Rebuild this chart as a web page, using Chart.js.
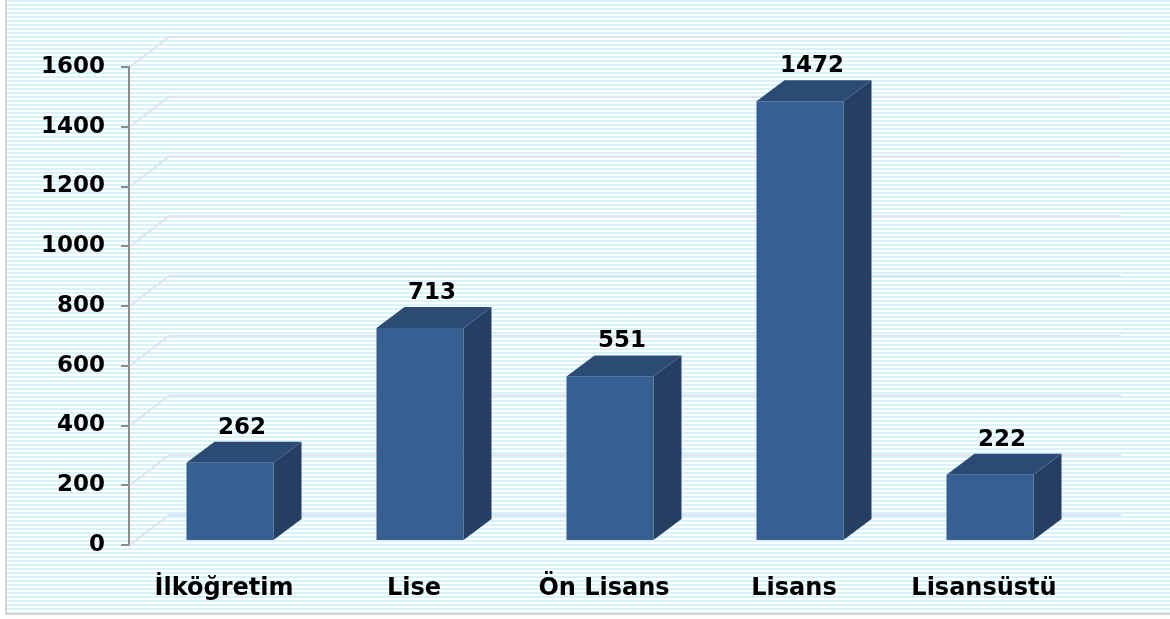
<!DOCTYPE html>
<html>
<head>
<meta charset="utf-8">
<script src="https://cdn.jsdelivr.net/npm/chart.js@4"></script>
<style>
  html, body { margin: 0; padding: 0; }
  body {
    width: 1170px; height: 619px; overflow: hidden;
    background: #fff;
  }
  .marco {
    position: absolute; left: 5px; top: 0; width: 1165px; height: 615px;
    border-left: 2px solid #d4d4d4; border-bottom: 2px solid #d4d4d4;
    box-sizing: border-box;
    background: repeating-linear-gradient(to bottom, #d7f2fb 0px, #d7f2fb 2px, #ffffff 2px, #ffffff 4px);
  }
  #grafico { position: absolute; left: 0; top: 0; }
</style>
</head>
<body>
<div class="marco"></div>
<canvas id="grafico" width="1170" height="619"></canvas>
<script>
// Datos del gráfico
const categorias = ['İlköğretim', 'Lise', 'Ön Lisans', 'Lisans', 'Lisansüstü'];
const valores = [262, 713, 551, 1472, 222];
const ejeMax = 1600;
const ejePaso = 200;

const FUENTE = '"DejaVu Sans", sans-serif';

// Profundidad 3D
const PROF_BARRA = { dx: 28, dy: -21 };
const PROF_PARED = { dx: 40, dy: -30 };
const DESPLAZ = { dx: 6, dy: -4 };

// Rejilla con perspectiva (pared del fondo)
const rejilla3d = {
  id: 'rejilla3d',
  beforeDatasetsDraw(chart) {
    const ctx = chart.ctx;
    const y = chart.scales.y;
    const area = chart.chartArea;
    ctx.save();
    ctx.strokeStyle = '#dde3f0';
    ctx.lineWidth = 2;
    y.ticks.forEach(function(t) {
      const py = y.getPixelForValue(t.value);
      ctx.beginPath();
      ctx.moveTo(area.left + 1, py);
      ctx.lineTo(area.left + PROF_PARED.dx, py + PROF_PARED.dy);
      ctx.lineTo(area.right + PROF_PARED.dx + 2, py + PROF_PARED.dy);
      ctx.stroke();
    });
    ctx.restore();
  }
};

// Barras en 3D (frente, techo, lado) y etiquetas
const barras3d = {
  id: 'barras3d',
  afterDatasetsDraw(chart) {
    const ctx = chart.ctx;
    const meta = chart.getDatasetMeta(0);
    ctx.save();
    meta.data.forEach(function(bar, i) {
      const p = bar.getProps(['x', 'y', 'base', 'width'], true);
      const x0 = p.x - p.width / 2 + DESPLAZ.dx;
      const x1 = p.x + p.width / 2 + DESPLAZ.dx;
      const top = p.y + DESPLAZ.dy;
      const bot = p.base + DESPLAZ.dy;
      const dx = PROF_BARRA.dx, dy = PROF_BARRA.dy;

      // lado
      ctx.fillStyle = '#243f61';
      ctx.beginPath();
      ctx.moveTo(x1, top);
      ctx.lineTo(x1 + dx, top + dy);
      ctx.lineTo(x1 + dx, bot + dy);
      ctx.lineTo(x1, bot);
      ctx.closePath();
      ctx.fill();

      // techo
      ctx.fillStyle = '#2c4b74';
      ctx.beginPath();
      ctx.moveTo(x0, top);
      ctx.lineTo(x0 + dx, top + dy);
      ctx.lineTo(x1 + dx, top + dy);
      ctx.lineTo(x1, top);
      ctx.closePath();
      ctx.fill();

      // frente
      ctx.fillStyle = '#375f92';
      ctx.fillRect(x0, top, x1 - x0, bot - top);

      // etiqueta de valor
      ctx.fillStyle = '#000';
      ctx.font = 'bold 23px ' + FUENTE;
      ctx.textAlign = 'center';
      ctx.textBaseline = 'alphabetic';
      ctx.fillText(String(valores[i]), (x0 + x1) / 2 + dx / 2 - 2, top + dy - 8);
    });
    ctx.restore();
  }
};

const ctx = document.getElementById('grafico').getContext('2d');
new Chart(ctx, {
  type: 'bar',
  data: {
    labels: categorias,
    datasets: [{
      data: valores,
      backgroundColor: 'rgba(0,0,0,0)',
      borderWidth: 0,
      categoryPercentage: 1,
      barPercentage: 0.458
    }]
  },
  options: {
    responsive: false,
    animation: false,
    layout: { padding: { left: 0, top: 67, right: 91, bottom: 0 } },
    plugins: { legend: { display: false }, tooltip: { enabled: false } },
    scales: {
      x: {
        grid: { display: false },
        border: { display: false },
        ticks: { color: '#000', padding: 21, font: { family: FUENTE, size: 24, weight: 'bold' } },
        afterFit(scale) { scale.height = 74; }
      },
      y: {
        min: 0,
        max: ejeMax,
        ticks: {
          stepSize: ejePaso, color: '#000', padding: 16,
          font: { family: FUENTE, size: 23, weight: 'bold' },
          callback: function(v) { return String(v); }
        },
        grid: { drawOnChartArea: false, color: '#8c8c8c', lineWidth: 2, tickLength: 8 },
        border: { display: true, color: '#8c8c8c', width: 2 },
        afterFit(scale) { scale.width = 129; }
      }
    }
  },
  plugins: [rejilla3d, barras3d]
});
</script>
</body>
</html>
